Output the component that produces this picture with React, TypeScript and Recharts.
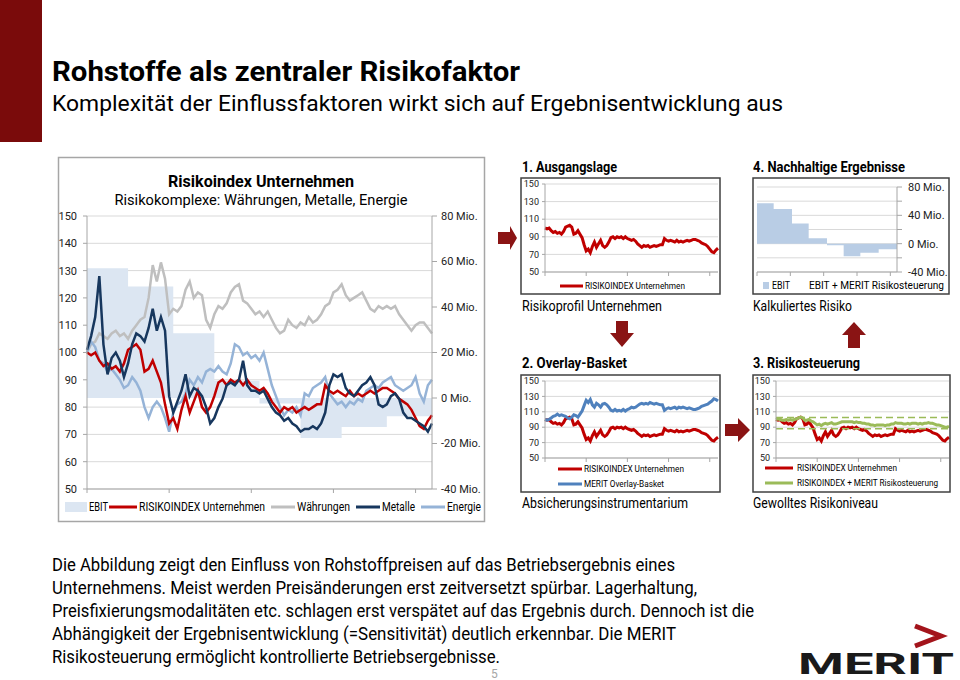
import React from 'react';
import { ComposedChart, Line, Area, XAxis, YAxis, CartesianGrid, ReferenceLine } from 'recharts';

// 85 Wochenwerte, Start = 100
const weeks = Array.from({ length: 85 }, (_, i) => i);
const weekTicks = [0, 20, 40, 60, 80];

const risikoindex = [
  100, 99, 100, 97, 95, 96, 94, 95, 93, 96,
  101, 102, 103, 101, 93, 94, 97, 93, 89, 81,
  74, 76, 72, 79, 84, 78, 82, 86, 80, 78,
  80, 84, 89, 90, 88, 90, 89, 90, 88, 90,
  88, 87, 86, 87, 85, 82, 80, 78, 80, 79,
  80, 78, 79, 80, 79, 80, 81, 81, 88, 86,
  85, 86, 85, 84, 86, 84, 85, 84, 85, 86,
  85, 86, 87, 87, 86, 85, 83, 82, 81, 79,
  76, 73, 72, 75, 77,
];
const waehrungen = [
  100, 103, 104, 107, 106, 105, 107, 108, 106, 107,
  105, 108, 110, 112, 113, 120, 132, 126, 133, 127,
  114, 116, 115, 117, 123, 126, 120, 122, 121, 112,
  109, 114, 117, 116, 118, 122, 124, 125, 119, 118,
  116, 114, 115, 113, 115, 112, 109, 107, 108, 112,
  110, 109, 111, 110, 113, 111, 112, 114, 117, 118,
  122, 123, 125, 121, 119, 120, 121, 122, 119, 116,
  115, 117, 116, 117, 116, 117, 114, 112, 110, 108,
  110, 111, 111, 109, 107,
];
const metalle = [
  101, 106, 113, 128, 103, 92, 98, 100, 97, 91,
  96, 103, 107, 106, 104, 109, 116, 108, 113, 108,
  84, 78, 82, 86, 92, 84, 87, 86, 84, 80,
  74, 76, 80, 83, 88, 89, 88, 90, 97, 88,
  86, 86, 85, 86, 83, 80, 78, 77, 75, 76,
  74, 73, 71, 72, 72, 73, 72, 74, 78, 88,
  92, 91, 92, 87, 85, 84, 86, 88, 89, 91,
  88, 81, 80, 81, 84, 85, 83, 78, 76, 76,
  75, 74, 73, 71, 74,
];
const energie = [
  100, 104, 102, 97, 96, 93, 94, 92, 90, 87,
  88, 91, 89, 86, 80, 76, 80, 82, 80, 76,
  71, 78, 81, 82, 85, 90, 88, 91, 89, 93,
  94, 93, 95, 93, 92, 96, 103, 102, 99, 100,
  98, 99, 97, 100, 94, 88, 84, 80, 77, 79,
  78, 80, 77, 85, 84, 87, 88, 89, 91, 85,
  83, 81, 82, 80, 82, 81, 83, 82, 86, 87,
  88, 87, 89, 90, 91, 88, 87, 86, 87, 88,
  91, 85, 82, 88, 90,
];
const overlayBasket = [
  100, 99, 100, 102, 104, 105, 107, 105, 106, 105,
  104, 102, 101, 103, 106, 105, 103, 107, 111, 118,
  125, 122, 126, 119, 116, 121, 119, 116, 120, 121,
  119, 116, 112, 111, 113, 111, 112, 111, 113, 111,
  113, 114, 116, 115, 116, 118, 120, 121, 120, 121,
  120, 122, 121, 120, 121, 120, 119, 119, 112, 114,
  115, 114, 115, 116, 114, 116, 115, 116, 115, 114,
  115, 114, 113, 113, 114, 115, 117, 118, 119, 120,
  122, 124, 127, 126, 124,
];
const risikosteuerung = [
  100, 101, 100, 99, 99, 100, 99, 100, 99, 100,
  101, 102, 103, 102, 99, 99, 100, 98, 97, 95,
  93, 94, 92, 94, 95, 94, 95, 96, 94, 94,
  95, 96, 97, 97, 97, 97, 97, 97, 96, 97,
  96, 96, 95, 95, 94, 94, 93, 93, 92, 93,
  93, 93, 93, 92, 93, 93, 94, 94, 96, 95,
  95, 95, 94, 94, 95, 94, 95, 95, 95, 94,
  95, 94, 95, 95, 96, 95, 95, 94, 93, 93,
  92, 91, 90, 90, 91,
];

// EBIT in Mio. je Periode (Stufen)
const ebitBlocks = [57, 49, 28.5, 7.6, -2.4, -17.6, -12.8, -8];
const ebitStarts = [0, 10, 21, 31, 42, 52, 62, 73];

const indexTicksMain = [50, 60, 70, 80, 90, 100, 110, 120, 130, 140, 150];
const indexTicksSmall = [50, 70, 90, 110, 130, 150];
const mioTicks = [-40, -20, 0, 20, 40, 60, 80];
const bandTop = 102.5;
const bandBottom = 88;

const RED = '#c00000';
const GRAY = '#bfbfbf';
const NAVY = '#17375e';
const LIGHTBLUE = '#95b3d7';
const BLUE = '#4f81bd';
const GREEN = '#9bbb59';
const EBIT_LIGHT = '#dce6f2';
const EBIT_MID = '#b9cde5';
const MAROON = '#8a1414';
const AXIS = '#a6a6a6';

const rows = weeks.map((w, i) => {
  let b = 0;
  ebitStarts.forEach((s, k) => {
    if (i >= s) b = k;
  });
  return {
    w,
    risk: risikoindex[i],
    fx: waehrungen[i],
    metals: metalle[i],
    energy: energie[i],
    basket: overlayBasket[i],
    steer: risikosteuerung[i],
    ebit: ebitBlocks[b],
  };
});

const noLabel = () => '';

// plain tick, no wrapping of "-40 Mio."
function MioTick({ x, y, payload, every }: any) {
  const v = payload.value;
  if (every && v % every !== 0) return null;
  return (
    <text x={x} y={y} dy="0.355em" textAnchor="start" fontSize={11} fill="#222">
      {`${v} Mio.`}
    </text>
  );
}

function MainChart() {
  return (
    <ComposedChart width={426} height={365} data={rows} margin={{ top: 59, right: 0, bottom: 25, left: 0 }}>
      <CartesianGrid yAxisId="idx" vertical={false} stroke="#d9d9d9" />
      <XAxis dataKey="w" type="number" domain={[0, 84]} ticks={weekTicks} tickFormatter={noLabel} height={8} tickSize={4} stroke={AXIS} />
      <YAxis yAxisId="idx" domain={[50, 150]} ticks={indexTicksMain} interval={0} width={29} tickSize={4} tickMargin={6} stroke={AXIS} tick={{ fill: '#222', fontSize: 11 }} />
      <YAxis yAxisId="mio" orientation="right" domain={[-40, 80]} ticks={mioTicks} interval={0} width={52} tickSize={5} tickMargin={4} stroke={AXIS} tick={<MioTick />} />
      <Area yAxisId="mio" type="stepAfter" dataKey="ebit" baseValue={0} fill={EBIT_LIGHT} fillOpacity={1} stroke="none" isAnimationActive={false} />
      <Line yAxisId="idx" dataKey="fx" stroke={GRAY} strokeWidth={2.5} dot={false} isAnimationActive={false} />
      <Line yAxisId="idx" dataKey="energy" stroke={LIGHTBLUE} strokeWidth={2.5} dot={false} isAnimationActive={false} />
      <Line yAxisId="idx" dataKey="risk" stroke={RED} strokeWidth={2.5} dot={false} isAnimationActive={false} />
      <Line yAxisId="idx" dataKey="metals" stroke={NAVY} strokeWidth={2.5} dot={false} isAnimationActive={false} />
    </ComposedChart>
  );
}

function SmallIndexChart({ width, height, axisWidth, right, bottom, children }: any) {
  return (
    <ComposedChart width={width} height={height} data={rows} margin={{ top: 6, right, bottom, left: 0 }}>
      <CartesianGrid vertical={false} stroke="#d9d9d9" />
      <XAxis dataKey="w" type="number" domain={[0, 84]} ticks={weekTicks} tickFormatter={noLabel} height={5} tickSize={4} stroke={AXIS} />
      <YAxis domain={[50, 150]} ticks={indexTicksSmall} interval={0} width={axisWidth} tickSize={3} tickMargin={3} stroke={AXIS} tick={{ fill: '#222', fontSize: 9 }} />
      {children}
    </ComposedChart>
  );
}

function EbitChart() {
  return (
    <ComposedChart width={196} height={116} data={rows} margin={{ top: 9, right: 0, bottom: 17, left: 4 }}>
      <CartesianGrid yAxisId="mio" vertical={false} stroke="#d9d9d9" />
      <XAxis dataKey="w" type="number" domain={[0, 84]} ticks={weekTicks} tickFormatter={noLabel} height={5} tickSize={4} stroke={AXIS} />
      <YAxis yAxisId="mio" orientation="right" domain={[-40, 80]} ticks={mioTicks} interval={0} width={52} tickSize={5} tickMargin={6} stroke={AXIS} tick={<MioTick every={40} />} />
      <Area yAxisId="mio" type="stepAfter" dataKey="ebit" baseValue={0} fill={EBIT_MID} fillOpacity={1} stroke="none" isAnimationActive={false} />
    </ComposedChart>
  );
}

function T({ x, y, w, size, bold, anchor = 'start', fill = '#000', children }: any) {
  return (
    <text x={x} y={y} fontSize={size} fontWeight={bold ? 700 : 400} textAnchor={anchor} fill={fill} textLength={w} lengthAdjust="spacingAndGlyphs">
      {children}
    </text>
  );
}

function Swatch({ x1, x2, y, color, width = 3 }: any) {
  return <line x1={x1} x2={x2} y1={y} y2={y} stroke={color} strokeWidth={width} />;
}

const place = (left: number, top: number) => ({ position: 'absolute' as const, left, top });

export default function App() {
  return (
    <div style={{ position: 'absolute', left: 0, top: 0, width: 960, height: 680, background: '#fff', overflow: 'hidden', fontFamily: 'Roboto, sans-serif' }}>
      <div style={place(58, 157)}>
        <MainChart />
      </div>
      <div style={place(521, 178)}>
        <SmallIndexChart width={199} height={116} axisWidth={24} right={2} bottom={17}>
          <Line dataKey="risk" stroke={RED} strokeWidth={3} dot={false} isAnimationActive={false} />
        </SmallIndexChart>
      </div>
      <div style={place(521, 375)}>
        <SmallIndexChart width={199} height={117} axisWidth={24} right={2} bottom={29}>
          <Line dataKey="risk" stroke={RED} strokeWidth={3} dot={false} isAnimationActive={false} />
          <Line dataKey="basket" stroke={BLUE} strokeWidth={3} dot={false} isAnimationActive={false} />
        </SmallIndexChart>
      </div>
      <div style={place(753, 375)}>
        <SmallIndexChart width={197} height={117} axisWidth={23} right={1} bottom={29}>
          <Line dataKey="risk" stroke={RED} strokeWidth={3} dot={false} isAnimationActive={false} />
          <Line dataKey="steer" stroke={GREEN} strokeWidth={3} dot={false} isAnimationActive={false} />
          <ReferenceLine y={bandTop} stroke={GREEN} strokeWidth={1.5} strokeDasharray="7 4" />
          <ReferenceLine y={bandBottom} stroke={GREEN} strokeWidth={1.5} strokeDasharray="7 4" />
        </SmallIndexChart>
      </div>
      <div style={place(753, 178)}>
        <EbitChart />
      </div>

      <svg width={960} height={680} style={{ position: 'absolute', left: 0, top: 0, pointerEvents: 'none' }}>
        <rect x={0} y={0} width={42} height={142} fill="#7a0b0b" />
        <T x={52} y={81} w={468} size={27} bold>Rohstoffe als zentraler Risikofaktor</T>
        <T x={52} y={111} w={731} size={22}>Komplexität der Einflussfaktoren wirkt sich auf Ergebnisentwicklung aus</T>

        {/* Hauptchart */}
        <rect x={58.5} y={157.5} width={426} height={364} fill="none" stroke={AXIS} strokeWidth={1.5} />
        <T x={261} y={187} w={186} size={16} bold anchor="middle">Risikoindex Unternehmen</T>
        <T x={261} y={205} w={293} size={15} anchor="middle">Risikokomplexe: Währungen, Metalle, Energie</T>
        <rect x={65} y={502} width={22} height={10} fill={EBIT_LIGHT} />
        <T x={89} y={511} w={19} size={12}>EBIT</T>
        <Swatch x1={109} x2={137} y={507} color={RED} />
        <T x={139} y={511} w={126} size={12}>RISIKOINDEX Unternehmen</T>
        <Swatch x1={271} x2={295} y={507} color={GRAY} />
        <T x={297} y={511} w={53} size={12}>Währungen</T>
        <Swatch x1={356} x2={380} y={507} color={NAVY} />
        <T x={382} y={511} w={33} size={12}>Metalle</T>
        <Swatch x1={421} x2={445} y={507} color={LIGHTBLUE} />
        <T x={447} y={511} w={34} size={12}>Energie</T>

        {/* 1. Ausgangslage */}
        <T x={522} y={172} w={95} size={15} bold>1. Ausgangslage</T>
        <rect x={521} y={178} width={199} height={116} fill="none" stroke="#404040" strokeWidth={1.5} />
        <Swatch x1={560} x2={583} y={286} color={RED} />
        <T x={585} y={289} w={100} size={9}>RISIKOINDEX Unternehmen</T>
        <T x={522} y={311} w={140} size={15}>Risikoprofil Unternehmen</T>

        {/* 4. Nachhaltige Ergebnisse */}
        <T x={753} y={172} w={152} size={15} bold>4. Nachhaltige Ergebnisse</T>
        <rect x={753} y={178} width={196} height={116} fill="none" stroke="#404040" strokeWidth={1.5} />
        <rect x={763} y={282} width={6} height={7} fill={EBIT_MID} />
        <T x={772} y={289} w={18} size={10}>EBIT</T>
        <T x={809} y={289} w={135} size={10}>EBIT + MERIT Risikosteuerung</T>
        <T x={753} y={311} w={99} size={15}>Kalkuliertes Risiko</T>

        {/* 2. Overlay-Basket */}
        <T x={522} y={368} w={105} size={15} bold>2. Overlay-Basket</T>
        <rect x={521} y={375} width={199} height={117} fill="none" stroke="#404040" strokeWidth={1.5} />
        <Swatch x1={558} x2={582} y={469} color={RED} />
        <T x={584} y={472} w={100} size={9}>RISIKOINDEX Unternehmen</T>
        <Swatch x1={558} x2={582} y={484} color={BLUE} />
        <T x={584} y={487} w={80} size={9}>MERIT Overlay-Basket</T>
        <T x={522} y={508} w={166} size={15}>Absicherungsinstrumentarium</T>

        {/* 3. Risikosteuerung */}
        <T x={753} y={368} w={107} size={15} bold>3. Risikosteuerung</T>
        <rect x={753} y={375} width={197} height={117} fill="none" stroke="#404040" strokeWidth={1.5} />
        <Swatch x1={765} x2={793} y={468} color={RED} />
        <T x={797} y={471} w={100} size={9}>RISIKOINDEX Unternehmen</T>
        <Swatch x1={765} x2={793} y={483} color={GREEN} />
        <T x={797} y={486} w={141} size={9}>RISIKOINDEX + MERIT Risikosteuerung</T>
        <T x={753} y={508} w={125} size={15}>Gewolltes Risikoniveau</T>

        {/* Pfeile */}
        <polygon points="498,232 510,232 510,226 517,238 510,250 510,244 498,244" fill={MAROON} />
        <polygon points="616,321 628,321 628,333 634,333 622,347 610,333 616,333" fill={MAROON} />
        <polygon points="725,424 738,424 738,418 750,430 738,442 738,436 725,436" fill={MAROON} />
        <polygon points="854,322 866,335 860,335 860,348 848,348 848,335 842,335" fill={MAROON} />

        {/* Text */}
        <T x={52} y={571} w={623} size={18}>Die Abbildung zeigt den Einfluss von Rohstoffpreisen auf das Betriebsergebnis eines</T>
        <T x={52} y={594} w={645} size={18}>Unternehmens. Meist werden Preisänderungen erst zeitversetzt spürbar. Lagerhaltung,</T>
        <T x={52} y={617} w={702} size={18}>Preisfixierungsmodalitäten etc. schlagen erst verspätet auf das Ergebnis durch. Dennoch ist die</T>
        <T x={52} y={640} w={624} size={18}>Abhängigkeit der Ergebnisentwicklung (=Sensitivität) deutlich erkennbar. Die MERIT</T>
        <T x={52} y={663} w={448} size={18}>Risikosteuerung ermöglicht kontrollierte Betriebsergebnisse.</T>
        <T x={491} y={678} size={12} fill="#a6a6a6">5</T>

        {/* Logo */}
        <polyline points="915,626 941,636 915,646" fill="none" stroke="#a3141b" strokeWidth={5} />
        <T x={798} y={674} w={156} size={30} bold fill="#1a1a1a">MERIT</T>
      </svg>
    </div>
  );
}
